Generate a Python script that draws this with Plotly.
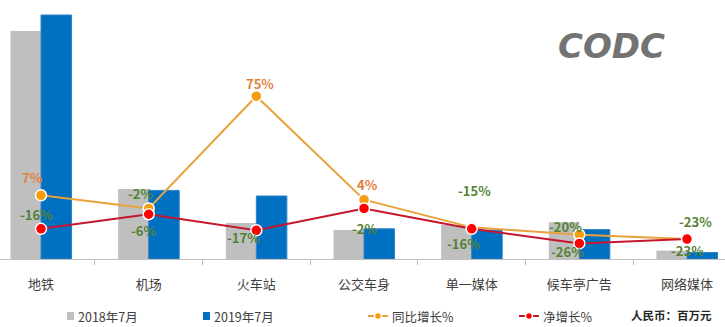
import plotly.graph_objects as go

categories = ["地铁", "机场", "火车站", "公交车身", "单一媒体", "候车亭广告", "网络媒体"]
spend_2018 = [2280, 700, 360, 290, 340, 367, 84]   # 百万元
spend_2019 = [2440, 686, 630, 302, 289, 294, 65]   # 百万元
yoy_growth = [7, -2, 75, 4, -15, -20, -23]          # 同比增长%
net_growth = [-16, -6, -17, -2, -16, -26, -23]      # 净增长%

# label offsets (px) — styling only
yoy_shift = [(-9, 18), (-8, 15), (4, 13), (3, 15), (3, 37), (-14, 8), (8, 18)]
net_shift = [(-5, 14), (-5, -16), (-13, -7), (0, -20), (-8, -15), (-12, -8), (0, -11)]

FONT = "Noto Sans CJK SC, Microsoft YaHei, sans-serif"
GRAY = "#BFBFBF"
BLUE = "#0070C0"
ORANGE_LINE = "#E9A13B"
ORANGE_MK = "#F59D0E"
RED_LINE = "#C5162E"
RED_MK = "#FF0000"
POS_TXT = "#E07F3A"
NEG_TXT = "#548235"

W, H, PLOT_H = 725, 327, 259


def px(x):
    return x / W


def py(y):
    return (PLOT_H - y) / PLOT_H


fig = go.Figure()
fig.add_trace(go.Bar(x=categories, y=spend_2018, name="2018年7月",
                     marker=dict(color=GRAY, line=dict(width=0))))
fig.add_trace(go.Bar(x=categories, y=spend_2019, name="2019年7月",
                     marker=dict(color=BLUE, line=dict(color="#2E80C8", width=1))))
fig.add_trace(go.Scatter(x=categories, y=yoy_growth, name="同比增长%", yaxis="y2",
                         mode="lines+markers",
                         line=dict(color=ORANGE_LINE, width=2),
                         marker=dict(color=ORANGE_MK, size=11, line=dict(color="white", width=1.5))))
fig.add_trace(go.Scatter(x=categories, y=net_growth, name="净增长%", yaxis="y2",
                         mode="lines+markers",
                         line=dict(color=RED_LINE, width=2),
                         marker=dict(color=RED_MK, size=11, line=dict(color="white", width=1.5))))

annotations = []
for vals, shifts in ((yoy_growth, yoy_shift), (net_growth, net_shift)):
    for c, v, (dx, dy) in zip(categories, vals, shifts):
        annotations.append(dict(
            x=c, y=v, xref="x", yref="y2", text=f"<b>{v}%</b>", showarrow=False,
            xshift=dx, yshift=dy, xanchor="center", yanchor="middle",
            font=dict(size=13, color=POS_TXT if v > 0 else NEG_TXT, family=FONT)))

# ---- manual legend ----
LEG_Y = 316
leg_font = dict(size=12.5, color="#404040", family=FONT)
shapes = []
# bar swatches
for x0, col, label in ((67, GRAY, "2018年7月"), (203, BLUE, "2019年7月")):
    shapes.append(dict(type="rect", xref="paper", yref="paper",
                       x0=px(x0), x1=px(x0 + 7), y0=py(LEG_Y - 4), y1=py(LEG_Y + 4),
                       fillcolor=col, line=dict(width=0)))
    annotations.append(dict(x=px(x0 + 9), y=py(LEG_Y), xref="paper", yref="paper",
                            xanchor="left", yanchor="middle", text=label, showarrow=False,
                            font=leg_font))
# line swatches
for x0, lcol, mcol, label in ((368, ORANGE_LINE, ORANGE_MK, "同比增长%"),
                              (519, RED_LINE, RED_MK, "净增长%")):
    shapes.append(dict(type="line", xref="paper", yref="paper",
                       x0=px(x0), x1=px(x0 + 20), y0=py(LEG_Y), y1=py(LEG_Y),
                       line=dict(color=lcol, width=2)))
    shapes.append(dict(type="circle", xref="paper", yref="paper",
                       x0=px(x0 + 10 - 3.5), x1=px(x0 + 10 + 3.5),
                       y0=py(LEG_Y - 3.5), y1=py(LEG_Y + 3.5),
                       fillcolor=mcol, line=dict(color="white", width=1.5)))
    annotations.append(dict(x=px(x0 + 22), y=py(LEG_Y), xref="paper", yref="paper",
                            xanchor="left", yanchor="middle", text=label, showarrow=False,
                            font=leg_font))

annotations.append(dict(x=px(671), y=py(315), xref="paper", yref="paper",
                        xanchor="center", yanchor="middle",
                        text="<b>人民币：百万元</b>", showarrow=False,
                        font=dict(size=11.5, color="#262626", family=FONT)))
annotations.append(dict(x=px(611), y=py(46), xref="paper", yref="paper",
                        xanchor="center", yanchor="middle",
                        text="<b><i>CODC</i></b>", showarrow=False,
                        font=dict(size=34, color="#737373", family="DejaVu Sans")))

fig.update_layout(
    width=W, height=H,
    margin=dict(l=0, r=0, t=0, b=H - PLOT_H),
    paper_bgcolor="white", plot_bgcolor="white",
    barmode="group", bargap=0.433, bargroupgap=0,
    xaxis=dict(type="category", range=[-0.381, 6.353], tickson="boundaries",
               ticks="outside", ticklen=5, tickcolor="#BFBFBF",
               showline=True, linecolor="#BFBFBF", linewidth=1,
               showgrid=False, zeroline=False,
               tickfont=dict(size=13, color="#404040", family=FONT),
               ticklabelstandoff=13),
    yaxis=dict(range=[0, 2590], visible=False, showgrid=False, zeroline=False),
    yaxis2=dict(range=[-36.7, 141.0], overlaying="y", side="right", visible=False,
                showgrid=False, zeroline=False),
    annotations=annotations,
    shapes=shapes,
    showlegend=False,
)

fig.write_html("out.html")
